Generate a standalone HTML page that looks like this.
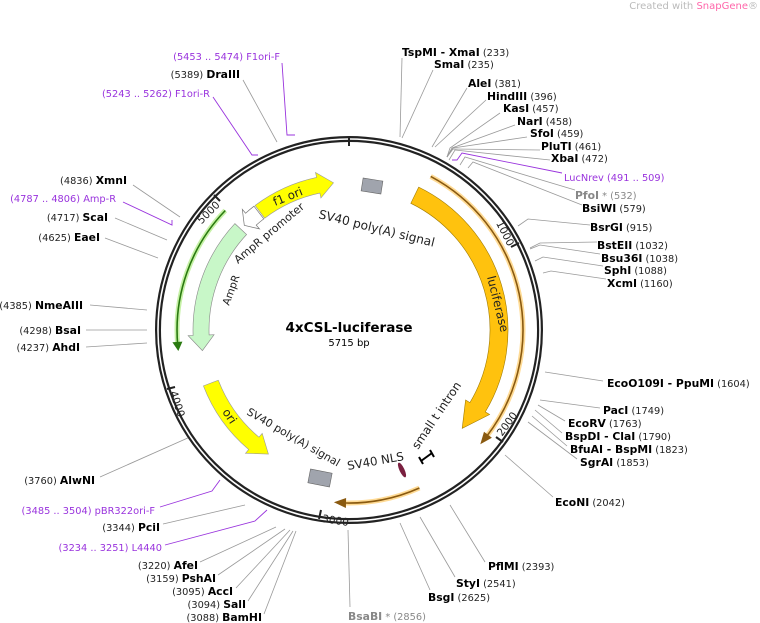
<!DOCTYPE html>
<html><head><meta charset="utf-8"><style>
html,body{margin:0;padding:0;background:#fff;}
svg{display:block;font-family:"DejaVu Sans","Liberation Sans",sans-serif;}
.n{font-size:9.8px;fill:#222;}
.b{font-size:10.8px;font-weight:bold;fill:#000;}
.p{font-size:9.8px;fill:#9933dd;}
.g{font-size:9.8px;fill:#888;}
.gb{font-size:10.8px;font-weight:bold;fill:#888;}
.l{stroke:#999;stroke-width:0.8;fill:none;}
.lp{stroke:#9933dd;stroke-width:0.9;fill:none;}
.f{font-size:11.8px;fill:#222;}
</style></head><body>
<svg width="760" height="623" viewBox="0 0 760 623" xmlns="http://www.w3.org/2000/svg">
<text x="758" y="9" text-anchor="end" style="font-size:10px;fill:#bbb">Created with <tspan fill="#f6a">SnapGene</tspan>®</text>

<g class="l">
<path d="M243,80 L277,142"/>
<path d="M133,185 L180,217"/>
<path d="M115,218 L167,240"/>
<path d="M105,238 L158,258"/>
<path d="M90,305 L147,310"/>
<path d="M86,330 L147,330"/>
<path d="M86,347 L147,343"/>
<path d="M100,477 L190,437"/>
<path d="M163,524 L245,505"/>
<path d="M200,562 L276,527"/>
<path d="M218,575 L285,529"/>
<path d="M236,588 L290,530"/>
<path d="M248,601 L293,531"/>
<path d="M264,614 L296,531"/>
<path d="M350,607 L348,530"/>
<path d="M430,590 L400,523"/>
<path d="M455,577 L420,517"/>
<path d="M485,562 L450,505"/>
<path d="M553,497 L505,455"/>
<path d="M577,459 L528,422"/>
<path d="M567,446 L532,416"/>
<path d="M562,433 L535,410"/>
<path d="M565,421 L538,405"/>
<path d="M600,408 L540,400"/>
<path d="M603,381 L545,372"/>
<path d="M606,279 L551,271 L543,273"/>
<path d="M603,266 L543,257 L535,261"/>
<path d="M600,254 L540,245 L530,249"/>
<path d="M597,242 L540,243 L530,248"/>
<path d="M590,225 L528,219 L518,226"/>
<path d="M582,205 L473,162 L468,168"/>
<path d="M575,190 L465,157 L460,165"/>
<path d="M550,160 L455,150 L449,160"/>
<path d="M540,150 L453,149 L447,157"/>
<path d="M527,137 L453,148 L447,157"/>
<path d="M515,125 L452,148 L447,157"/>
<path d="M500,113 L450,148 L447,157"/>
<path d="M486,100 L435,147"/>
<path d="M467,88 L432,147"/>
<path d="M433,70 L402,138"/>
<path d="M402,58 L400,137"/>
</g>
<g class="lp">
<path d="M282,63 L287,135 L295,135"/>
<path d="M213,97 L252,155 L258,155"/>
<path d="M123,202 L172,225 L172,220"/>
<path d="M160,507 L212,491 L220,480"/>
<path d="M165,545 L255,521 L267,510"/>
<path d="M562,173 L462,153 L457,160 L452,160"/>
</g>

<circle cx="349" cy="330" r="191" fill="none" stroke="#222" stroke-width="6"/>
<circle cx="349" cy="330" r="191" fill="none" stroke="#fff" stroke-width="1.6"/>

<g stroke="#222" stroke-width="2">
<line x1="349" y1="137" x2="349" y2="146"/>
<line x1="519" y1="243" x2="511" y2="247"/>
<line x1="503" y1="442" x2="496" y2="437"/>
<line x1="319" y1="519" x2="321" y2="510"/>
<line x1="167" y1="389" x2="175" y2="387"/>
<line x1="214" y1="195" x2="220" y2="201"/>
</g>
<g style="font-size:10.5px;fill:#222">
<text transform="translate(502,235) rotate(63)" text-anchor="middle">1000</text>
<text transform="translate(510,426) rotate(-54)" text-anchor="middle">2000</text>
<text transform="translate(335,524) rotate(9)" text-anchor="middle">3000</text>
<text transform="translate(174,405) rotate(72)" text-anchor="middle">4000</text>
<text transform="translate(211,215) rotate(-45)" text-anchor="middle">5000</text>
</g>

<path d="M430.7,176.4 A174,174 0 0 1 486.1,437.1" fill="none" stroke="#ffd27a" stroke-width="5" opacity="0.8"/>
<path d="M430.7,176.4 A174,174 0 0 1 486.1,437.1" fill="none" stroke="#8a5a10" stroke-width="1.6"/>
<path d="M484,431.7 L491.9,437.7 L480.3,444.2 Z" fill="#8a5a10"/>
<path d="M419.4,488 A173,173 0 0 1 346,503" fill="none" stroke="#ffd27a" stroke-width="5" opacity="0.8"/>
<path d="M419.4,488 A173,173 0 0 1 346,503" fill="none" stroke="#8a5a10" stroke-width="1.6"/>
<path d="M346.1,498 L345.9,508 L333.9,502.3 Z" fill="#8a5a10"/>
<path d="M225.3,210.5 A172,172 0 0 0 177.7,345" fill="none" stroke="#b8ee90" stroke-width="5" opacity="0.8"/>
<path d="M225.3,210.5 A172,172 0 0 0 177.7,345" fill="none" stroke="#2a7a10" stroke-width="1.6"/>
<path d="M182.4,341.6 L172.4,342.3 L178.3,351 Z" fill="#2a7a10"/>

<path d="M418.7,187.1 A159,159 0 0 1 485.3,411.9 L489.6,414.5 L462.2,428.4 L465.6,400 L469.9,402.6 A141,141 0 0 0 410.8,203.3 Z" fill="#ffc20e" stroke="#a07a00" stroke-width="0.6"/>
<path d="M255.1,205.4 A156,156 0 0 1 316.6,177.4 L315.5,172.5 L333.5,182.8 L320.9,198 L319.9,193.1 A140,140 0 0 0 264.7,218.2 Z" fill="#ffff00" stroke="#999" stroke-width="0.6"/>
<path d="M254,206.2 A156,156 0 0 0 245.6,213.2 L242.3,209.4 L244.3,225.3 L259.5,228.9 L256.2,225.1 A140,140 0 0 1 263.8,218.9 Z" fill="#fff" stroke="#777" stroke-width="0.7"/>
<path d="M234.9,223.6 A156,156 0 0 0 193.1,335.4 L188.1,335.6 L202.4,350.6 L214.1,334.7 L209.1,334.9 A140,140 0 0 1 246.6,234.5 Z" fill="#c8f7c8" stroke="#888" stroke-width="0.6"/>
<path d="M203.4,385.9 A156,156 0 0 0 248.7,449.5 L245.5,453.3 L268.4,454.1 L262.2,433.4 L259,437.2 A140,140 0 0 1 218.3,380.2 Z" fill="#ffff00" stroke="#999" stroke-width="0.6"/>

<rect x="-10" y="-6.5" width="20" height="13" transform="translate(372,186) rotate(9)" fill="#a0a4ad" stroke="#666" stroke-width="0.6"/>
<rect x="-11" y="-7" width="22" height="14" transform="translate(320,478) rotate(11)" fill="#a0a4ad" stroke="#666" stroke-width="0.6"/>
<ellipse cx="402" cy="470" rx="2.5" ry="8" transform="rotate(-25 402 470)" fill="#7a2040"/>
<g stroke="#000" stroke-width="2"><line x1="421" y1="461" x2="432" y2="453"/><line x1="419" y1="457" x2="423" y2="464"/><line x1="430" y1="450" x2="434" y2="457"/></g>

<text class="f" transform="translate(318,218) rotate(14)" style="font-size:12.2px">SV40 poly(A) signal</text>
<text class="f" transform="translate(238,264) rotate(-40)" style="font-size:11px">AmpR promoter</text>
<text class="f" transform="translate(229,306) rotate(-70)" style="font-size:10.5px">AmpR</text>
<text class="f" transform="translate(275,206) rotate(-22)">f1 ori</text>
<text class="f" transform="translate(487,277) rotate(76)">luciferase</text>
<text class="f" transform="translate(222,412) rotate(56)">ori</text>
<text class="f" transform="translate(246,414) rotate(30)" style="font-size:10.8px">SV40 poly(A) signal</text>
<text class="f" transform="translate(348,470) rotate(-10)">SV40 NLS</text>
<text class="f" transform="translate(418,450) rotate(-56)">small t intron</text>

<text x="349" y="332" text-anchor="middle" style="font-size:13.5px;font-weight:bold">4xCSL-luciferase</text>
<text x="349" y="346" text-anchor="middle" style="font-size:10px">5715 bp</text>

<g text-anchor="end">
<text x="280" y="60" class="p">(5453 .. 5474)  F1ori-F</text>
<text x="240" y="78"><tspan class="n">(5389)  </tspan><tspan class="b">DraIII</tspan></text>
<text x="210" y="97" class="p">(5243 .. 5262)  F1ori-R</text>
<text x="127" y="184"><tspan class="n">(4836)  </tspan><tspan class="b">XmnI</tspan></text>
<text x="116" y="202" class="p">(4787 .. 4806)  Amp-R</text>
<text x="108" y="221"><tspan class="n">(4717)  </tspan><tspan class="b">ScaI</tspan></text>
<text x="100" y="241"><tspan class="n">(4625)  </tspan><tspan class="b">EaeI</tspan></text>
<text x="83" y="309"><tspan class="n">(4385)  </tspan><tspan class="b">NmeAIII</tspan></text>
<text x="81" y="334"><tspan class="n">(4298)  </tspan><tspan class="b">BsaI</tspan></text>
<text x="80" y="351"><tspan class="n">(4237)  </tspan><tspan class="b">AhdI</tspan></text>
<text x="95" y="484"><tspan class="n">(3760)  </tspan><tspan class="b">AlwNI</tspan></text>
<text x="155" y="514" class="p">(3485 .. 3504)  pBR322ori-F</text>
<text x="160" y="531"><tspan class="n">(3344)  </tspan><tspan class="b">PciI</tspan></text>
<text x="162" y="551" class="p">(3234 .. 3251)  L4440</text>
<text x="198" y="569"><tspan class="n">(3220)  </tspan><tspan class="b">AfeI</tspan></text>
<text x="216" y="582"><tspan class="n">(3159)  </tspan><tspan class="b">PshAI</tspan></text>
<text x="233" y="595"><tspan class="n">(3095)  </tspan><tspan class="b">AccI</tspan></text>
<text x="246" y="608"><tspan class="n">(3094)  </tspan><tspan class="b">SalI</tspan></text>
<text x="262" y="621"><tspan class="n">(3088)  </tspan><tspan class="b">BamHI</tspan></text>
</g>

<g>
<text x="402" y="56"><tspan class="b">TspMI  - XmaI</tspan><tspan class="n">  (233)</tspan></text>
<text x="434" y="68"><tspan class="b">SmaI</tspan><tspan class="n">  (235)</tspan></text>
<text x="468" y="87"><tspan class="b">AleI</tspan><tspan class="n">  (381)</tspan></text>
<text x="487" y="100"><tspan class="b">HindIII</tspan><tspan class="n">  (396)</tspan></text>
<text x="503" y="112"><tspan class="b">KasI</tspan><tspan class="n">  (457)</tspan></text>
<text x="517" y="125"><tspan class="b">NarI</tspan><tspan class="n">  (458)</tspan></text>
<text x="530" y="137"><tspan class="b">SfoI</tspan><tspan class="n">  (459)</tspan></text>
<text x="541" y="150"><tspan class="b">PluTI</tspan><tspan class="n">  (461)</tspan></text>
<text x="551" y="162"><tspan class="b">XbaI</tspan><tspan class="n">  (472)</tspan></text>
<text x="564" y="181" class="p">LucNrev   (491 .. 509)</text>
<text x="575" y="199"><tspan class="gb">PfoI</tspan><tspan class="g"> *  (532)</tspan></text>
<text x="582" y="212"><tspan class="b">BsiWI</tspan><tspan class="n">  (579)</tspan></text>
<text x="590" y="231"><tspan class="b">BsrGI</tspan><tspan class="n">  (915)</tspan></text>
<text x="597" y="249"><tspan class="b">BstEII</tspan><tspan class="n">  (1032)</tspan></text>
<text x="601" y="262"><tspan class="b">Bsu36I</tspan><tspan class="n">  (1038)</tspan></text>
<text x="604" y="274"><tspan class="b">SphI</tspan><tspan class="n">  (1088)</tspan></text>
<text x="607" y="287"><tspan class="b">XcmI</tspan><tspan class="n">  (1160)</tspan></text>
<text x="607" y="387"><tspan class="b">EcoO109I  - PpuMI</tspan><tspan class="n">  (1604)</tspan></text>
<text x="603" y="414"><tspan class="b">PacI</tspan><tspan class="n">  (1749)</tspan></text>
<text x="568" y="427"><tspan class="b">EcoRV</tspan><tspan class="n">  (1763)</tspan></text>
<text x="565" y="440"><tspan class="b">BspDI  - ClaI</tspan><tspan class="n">  (1790)</tspan></text>
<text x="570" y="453"><tspan class="b">BfuAI  - BspMI</tspan><tspan class="n">  (1823)</tspan></text>
<text x="580" y="466"><tspan class="b">SgrAI</tspan><tspan class="n">  (1853)</tspan></text>
<text x="555" y="506"><tspan class="b">EcoNI</tspan><tspan class="n">  (2042)</tspan></text>
<text x="488" y="570"><tspan class="b">PflMI</tspan><tspan class="n">  (2393)</tspan></text>
<text x="456" y="587"><tspan class="b">StyI</tspan><tspan class="n">  (2541)</tspan></text>
<text x="428" y="601"><tspan class="b">BsgI</tspan><tspan class="n">  (2625)</tspan></text>
<text x="348" y="620"><tspan class="gb">BsaBI</tspan><tspan class="g"> *  (2856)</tspan></text>
</g>
</svg>
</body></html>
